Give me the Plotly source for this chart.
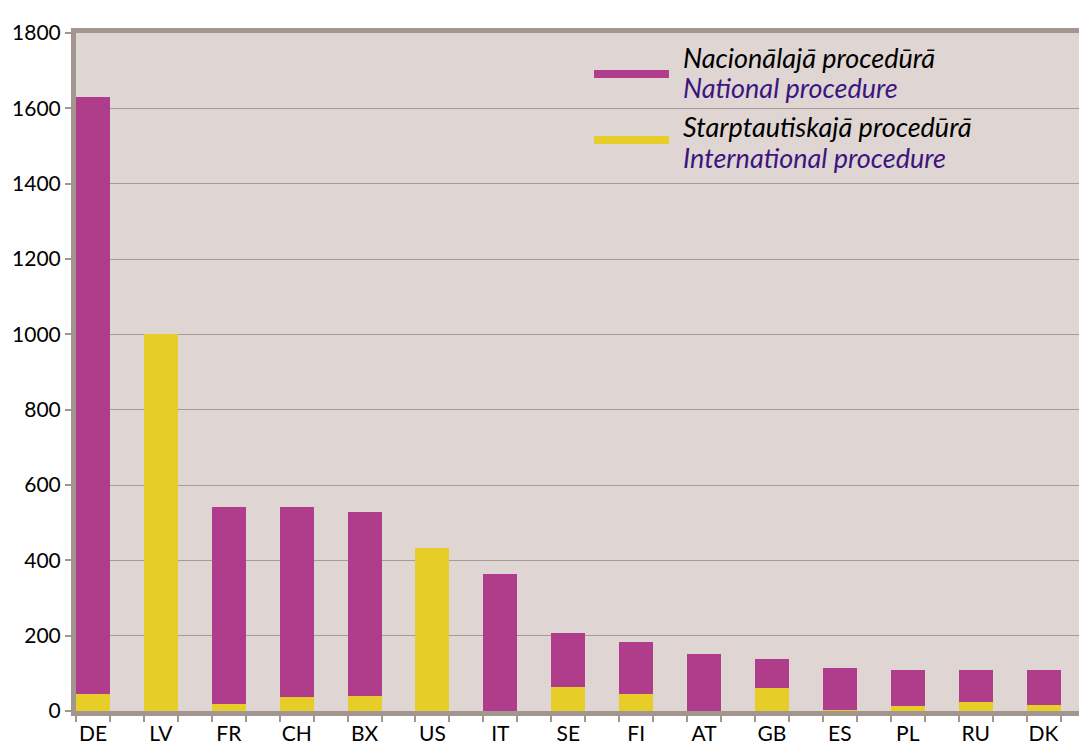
import plotly.graph_objects as go

countries = ["DE", "LV", "FR", "CH", "BX", "US", "IT", "SE", "FI", "AT", "GB", "ES", "PL", "RU", "DK"]
national = [1585, 0, 524, 506, 488, 0, 364, 145, 140, 152, 79, 113, 95, 84, 92]
international = [45, 1000, 18, 36, 40, 432, 0, 63, 44, 0, 60, 2, 13, 24, 16]
y_ticks = [0, 200, 400, 600, 800, 1000, 1200, 1400, 1600, 1800]

legend_lv = ["Nacionālajā procedūrā", "Starptautiskajā procedūrā"]
legend_en = ["National procedure", "International procedure"]

PURPLE = "#B03C8C"
YELLOW = "#E6CD27"
AXIS = "#A39690"
BG = "#DFD6D3"
GRID = "#A59C98"
FONT = "Lato"

x = list(range(len(countries)))

fig = go.Figure()
fig.add_trace(go.Bar(x=x, y=international, marker_color=YELLOW, width=0.5,
                     marker_line_width=0, name=legend_en[1]))
fig.add_trace(go.Bar(x=x, y=national, marker_color=PURPLE, width=0.5,
                     marker_line_width=0, name=legend_en[0]))

fig.update_layout(
    width=1079, height=739,
    barmode="stack",
    showlegend=False,
    paper_bgcolor="white",
    plot_bgcolor=BG,
    margin=dict(l=68, r=0, t=25, b=36),
    font=dict(family=FONT, size=21, color="black"),
)

fig.update_xaxes(
    range=[-0.25, 14.64],
    tickmode="array", tickvals=x, ticktext=countries,
    ticks="", showgrid=False, zeroline=False,
    showline=True, linecolor=AXIS, linewidth=5, mirror=True,
    tickfont=dict(family=FONT, size=21, color="black"),
    minor=dict(tickmode="array", tickvals=[i - 0.25 for i in x] + [i + 0.25 for i in x],
               ticks="outside", ticklen=6, tickwidth=1.5, tickcolor=AXIS, showgrid=False),
)
fig.update_yaxes(
    range=[0, 1800],
    tickmode="array", tickvals=y_ticks, ticktext=[str(v) for v in y_ticks],
    ticks="outside", ticklen=6, tickwidth=1.5, tickcolor=AXIS,
    showgrid=True, gridcolor=GRID, gridwidth=1, zeroline=False,
    showline=True, linecolor=AXIS, linewidth=5,
    tickfont=dict(family=FONT, size=21, color="black"),
)

# legend (custom: wide line swatches with bilingual labels)
rows = [(PURPLE, 0.9395, 0.9646, 0.9189), (YELLOW, 0.8422, 0.8628, 0.8171)]
for i, (color, ys, ylv, yen) in enumerate(rows):
    fig.add_shape(type="rect", xref="paper", yref="paper",
                  x0=0.5124, x1=0.5865, y0=ys - 0.006, y1=ys + 0.006,
                  fillcolor=color, line_width=0)
    fig.add_annotation(xref="paper", yref="paper", x=0.5984, y=ylv,
                       xanchor="left", yanchor="middle", showarrow=False,
                       text="<i>" + legend_lv[i] + "</i>",
                       font=dict(family=FONT, size=27, color="black"))
    fig.add_annotation(xref="paper", yref="paper", x=0.5984, y=yen,
                       xanchor="left", yanchor="middle", showarrow=False,
                       text="<i>" + legend_en[i] + "</i>",
                       font=dict(family=FONT, size=27, color="#3D1580"))

fig.write_html("out.html")
